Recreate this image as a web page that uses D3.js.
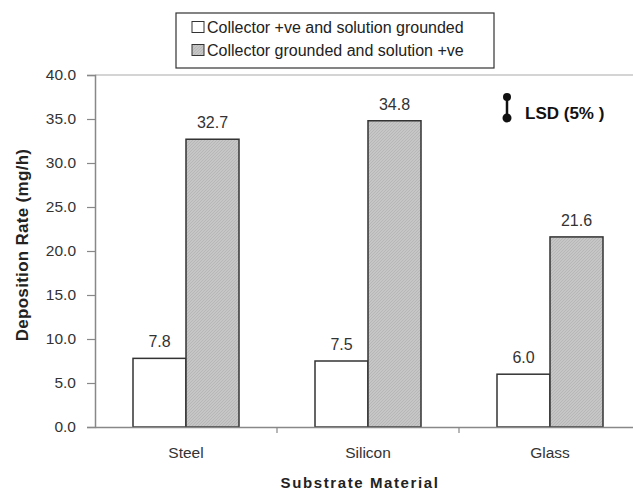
<!DOCTYPE html>
<html><head><meta charset="utf-8">
<script src="https://cdn.jsdelivr.net/npm/d3@7"></script>
<style>body{margin:0;background:#fff;} svg{display:block;font-family:"Liberation Sans",Arial,sans-serif;}</style>
</head><body>
<svg id="c" width="633" height="491"></svg>
<script>
const categories = ["Steel", "Silicon", "Glass"];
const seriesNames = ["Collector +ve and solution grounded", "Collector grounded and solution +ve"];
const positiveCollector = [7.8, 7.5, 6.0];
const groundedCollector = [32.7, 34.8, 21.6];
const yTicks = [0, 5, 10, 15, 20, 25, 30, 35, 40];

const svg = d3.select("#c");
const defs = svg.append("defs");
const pat = defs.append("pattern").attr("id","hatch").attr("patternUnits","userSpaceOnUse")
  .attr("width",3).attr("height",3);
pat.append("rect").attr("width",3).attr("height",3).attr("fill","#c6c6c6");
pat.append("path").attr("d","M0,3 L3,0").attr("stroke","#b0b0b0").attr("stroke-width",0.7);

const x = d3.scaleBand().domain(categories).range([95, 641]).padding(0);
const y = d3.scaleLinear().domain([0, 40]).range([427, 75]);
const barW = 53;
const sub = d3.scaleBand().domain([0,1]).range([0, 2*barW]);

// plot top border
svg.append("line").attr("x1",95).attr("x2",641).attr("y1",y(40)).attr("y2",y(40))
  .attr("stroke","#aaa").attr("stroke-width",1.2);

// y axis
const yAxis = svg.append("g").attr("transform","translate(95,0)")
  .call(d3.axisLeft(y).tickValues(yTicks).tickFormat(d3.format(".1f")).tickSize(8).tickPadding(11));
yAxis.select(".domain").attr("stroke","#888").attr("stroke-width",1.5);
yAxis.selectAll(".tick line").attr("stroke","#888").attr("stroke-width",1.2);
yAxis.selectAll("text").attr("font-size",15.5).attr("fill","#333");

const series = [positiveCollector, groundedCollector];
const fills = ["#ffffff", "url(#hatch)"];
categories.forEach((c, i) => {
  const x0 = x(c) + (x.bandwidth() - 2*barW)/2;
  series.forEach((s, k) => {
    svg.append("rect").attr("x", x0 + sub(k)).attr("y", y(s[i]))
      .attr("width", barW).attr("height", y(0) - y(s[i]))
      .attr("fill", fills[k]).attr("stroke","#333").attr("stroke-width",1.5);
    svg.append("text").attr("x", x0 + sub(k) + barW/2).attr("y", y(s[i]) - 11)
      .attr("text-anchor","middle").attr("font-size",16).attr("fill","#333")
      .text(d3.format(".1f")(s[i]));
  });
});

// x axis
const xAxis = svg.append("g").attr("transform","translate(0,427)")
  .call(d3.axisBottom(x).tickSize(0).tickPadding(20));
xAxis.select(".domain").attr("stroke","#888").attr("stroke-width",1.5);
xAxis.selectAll("text").attr("font-size",15.5).attr("fill","#333");
// boundary ticks
svg.selectAll(".btick").data(categories.slice(1)).enter().append("line")
  .attr("x1", d => x(d)).attr("x2", d => x(d)).attr("y1",427).attr("y2",433)
  .attr("stroke","#888").attr("stroke-width",1.2);

// axis titles
svg.append("text").attr("x",360).attr("y",488).attr("text-anchor","middle")
  .attr("font-size",15).attr("font-weight","bold").attr("letter-spacing",1.6).attr("fill","#222")
  .text("Substrate Material");
svg.append("text").attr("transform","translate(28,245) rotate(-90)").attr("text-anchor","middle")
  .attr("font-size",17).attr("font-weight","bold").attr("letter-spacing",0.3).attr("fill","#222")
  .text("Deposition Rate (mg/h)");

// legend
const lg = svg.append("g");
lg.append("rect").attr("x",176).attr("y",13).attr("width",318).attr("height",55)
  .attr("fill","#fff").attr("stroke","#333").attr("stroke-width",1.2);
seriesNames.forEach((n, k) => {
  const cy = 27 + k*23;
  lg.append("rect").attr("x",192).attr("y",cy-5.5).attr("width",12).attr("height",11)
    .attr("fill", fills[k]).attr("stroke","#333").attr("stroke-width",1);
  lg.append("text").attr("x",207).attr("y",cy+5.5).attr("font-size",16).attr("fill","#222").text(n);
});

// LSD marker
const lsd = svg.append("g");
lsd.append("line").attr("x1",507).attr("x2",507).attr("y1",97).attr("y2",118)
  .attr("stroke","#111").attr("stroke-width",2.5);
lsd.append("circle").attr("cx",507).attr("cy",97).attr("r",4).attr("fill","#111");
lsd.append("circle").attr("cx",507).attr("cy",118).attr("r",4.5).attr("fill","#111");
lsd.append("text").attr("x",525).attr("y",119).attr("font-size",17).attr("font-weight","bold")
  .attr("fill","#111").text("LSD (5% )");
</script>
</body></html>
